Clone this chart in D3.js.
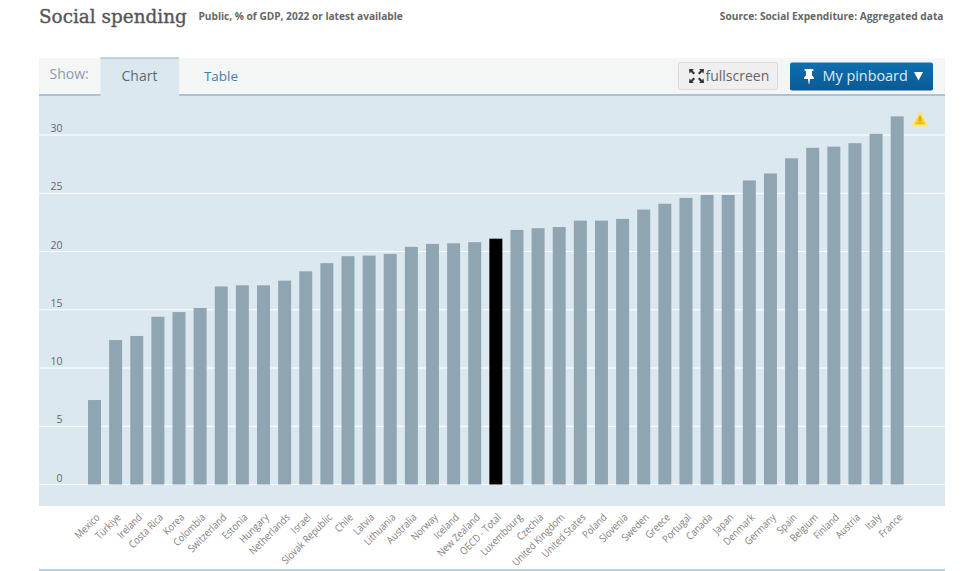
<!DOCTYPE html>
<html><head><meta charset="utf-8">
<script src="https://cdn.jsdelivr.net/npm/d3@7"></script>
<style>html,body{margin:0;padding:0;background:#fff}svg{display:block}</style>
</head><body><svg id="c" width="967" height="571"></svg>
<script>
const categories=["Mexico","Türkiye","Ireland","Costa Rica","Korea","Colombia","Switzerland","Estonia","Hungary","Netherlands","Israel","Slovak Republic","Chile","Latvia","Lithuania","Australia","Norway","Iceland","New Zealand","OECD - Total","Luxembourg","Czechia","United Kingdom","United States","Poland","Slovenia","Sweden","Greece","Portugal","Canada","Japan","Denmark","Germany","Spain","Belgium","Finland","Austria","Italy","France"];
const spending=[7.25,12.4,12.75,14.4,14.8,15.15,17.0,17.1,17.1,17.5,18.3,19.0,19.6,19.65,19.8,20.4,20.65,20.7,20.8,21.1,21.85,22.0,22.1,22.65,22.65,22.8,23.6,24.1,24.6,24.85,24.85,26.1,26.7,28.0,28.9,29.0,29.3,30.1,31.6];
const tickValues=[0,5,10,15,20,25,30];
const highlight="OECD - Total";

const svg=d3.select("#c");
const sans="'Open Sans','Noto Sans',sans-serif";
const L=39,R=945,T=96,B=506;
const y=d3.scaleLinear().domain([0,30]).range([484.5,135]);
const x=d3.scaleBand().domain(categories).range([84,907.7]).paddingInner(0.385).paddingOuter(0.19);

// header
svg.append("text").attr("x",39).attr("y",23).attr("font-family","'DejaVu Serif',serif").attr("font-size",18.4).attr("fill","#555").attr("stroke","#555").attr("stroke-width",0.35).text("Social spending");
svg.append("text").attr("x",198.5).attr("y",20).attr("font-family",sans).attr("font-size",10.15).attr("font-weight",700).attr("fill","#666").text("Public, % of GDP, 2022 or latest available");
svg.append("text").attr("x",943.5).attr("y",20).attr("text-anchor","end").attr("font-family",sans).attr("font-size",10.2).attr("font-weight",700).attr("fill","#666").text("Source: Social Expenditure: Aggregated data");

// tab bar
svg.append("rect").attr("x",L).attr("y",58).attr("width",R-L).attr("height",37).attr("fill","#f4f5f5");
svg.append("rect").attr("x",L).attr("y",T).attr("width",R-L).attr("height",B-T).attr("fill","#dce8f0");
svg.append("line").attr("x1",L).attr("x2",R).attr("y1",95).attr("y2",95).attr("stroke","#8db0c8").attr("stroke-width",1.5);
svg.append("rect").attr("x",100.5).attr("y",58).attr("width",78.5).attr("height",38).attr("fill","#dce8f0");
svg.append("line").attr("x1",100.5).attr("x2",179).attr("y1",58).attr("y2",58).attr("stroke","#8db0c8").attr("stroke-width",1);
svg.append("text").attr("x",49.5).attr("y",79).attr("font-family",sans).attr("font-size",14).attr("fill","#8e9aa6").text("Show:");
svg.append("text").attr("x",139.5).attr("y",81).attr("text-anchor","middle").attr("font-family",sans).attr("font-size",14).attr("fill","#5f6a70").text("Chart");
svg.append("text").attr("x",221).attr("y",81).attr("text-anchor","middle").attr("font-family",sans).attr("font-size",13.5).attr("fill","#3f80ab").text("Table");

// fullscreen button
svg.append("rect").attr("x",678.5).attr("y",62.5).attr("width",99).attr("height",27).attr("rx",2).attr("fill","#efefef").attr("stroke","#dcdcdc");
const fs=svg.append("g").attr("fill","#333");
[[689,69,1,1],[704,69,-1,1],[689,83,1,-1],[704,83,-1,-1]].forEach(([a,b,p,q])=>{
  fs.append("path").attr("d",`M${a} ${b}h${5*p}l${-1.5*p} ${1.5*q}l${2.5*p} ${2.5*q}l${-1.5*p} ${1.5*q}l${-2.5*p} ${-2.5*q}l${-1.5*p} ${1.5*q}z`);
});
svg.append("text").attr("x",705.5).attr("y",80.5).attr("font-family",sans).attr("font-size",14).attr("fill","#666").text("fullscreen");

// pinboard button
const grad=svg.append("defs").append("linearGradient").attr("id","pb").attr("x1",0).attr("x2",0).attr("y1",0).attr("y2",1);
grad.append("stop").attr("offset",0).attr("stop-color","#0f6fb0");
grad.append("stop").attr("offset",1).attr("stop-color","#0a5a94");
svg.append("rect").attr("x",790).attr("y",62.5).attr("width",143).attr("height",28).attr("rx",2).attr("fill","url(#pb)");
svg.append("path").attr("d","M804.5 69h9v1.5l-1.5 .8v4.2l2 2v1.5h-4l-.7 5h-.6l-.7 -5h-4v-1.5l2 -2v-4.2l-1.5 -.8z").attr("fill","#fff");
svg.append("text").attr("x",822.5).attr("y",80.5).attr("font-family",sans).attr("font-size",14.4).attr("fill","#dfeaf3").text("My pinboard");
svg.append("path").attr("d","M914 72h9l-4.5 8.5z").attr("fill","#fff");

// grid
svg.append("g").selectAll("line").data(tickValues).join("line")
  .attr("x1",L).attr("x2",R).attr("y1",d=>y(d)).attr("y2",d=>y(d)).attr("stroke","#fff").attr("stroke-width",1);
svg.append("g").selectAll("text").data(tickValues).join("text")
  .attr("x",62.5).attr("y",d=>y(d)-3).attr("text-anchor","end").attr("font-family",sans).attr("font-size",10.5).attr("fill","#666").text(d=>d);

// bars
svg.append("g").selectAll("rect").data(categories).join("rect")
  .attr("x",d=>x(d)).attr("width",x.bandwidth())
  .attr("y",(d,i)=>y(spending[i])).attr("height",(d,i)=>y(0)-y(spending[i]))
  .attr("fill",d=>d===highlight?"#000":"#90a5b2");

// x labels
svg.append("g").selectAll("text").data(categories).join("text")
  .attr("text-anchor","end").attr("font-family",sans).attr("font-size",10.4).attr("fill","#808080")
  .attr("transform",d=>`translate(${x(d)+x.bandwidth()/2+6},${518}) rotate(-45) scale(0.88,1)`).text(d=>d);

svg.append("line").attr("x1",L).attr("x2",R).attr("y1",570).attr("y2",570).attr("stroke","#6fa3b8").attr("stroke-width",1);

// warning
svg.append("path").attr("d","M920 112.5L927 125.5H913Z").attr("fill","#f5c518").attr("stroke","#fbe27a").attr("stroke-width",2).attr("stroke-linejoin","round");
svg.append("rect").attr("x",919.4).attr("y",116).attr("width",1.2).attr("height",5).attr("fill","#c9a414");
svg.append("rect").attr("x",919.4).attr("y",122).attr("width",1.2).attr("height",1.5).attr("fill","#c9a414");
</script></body></html>
